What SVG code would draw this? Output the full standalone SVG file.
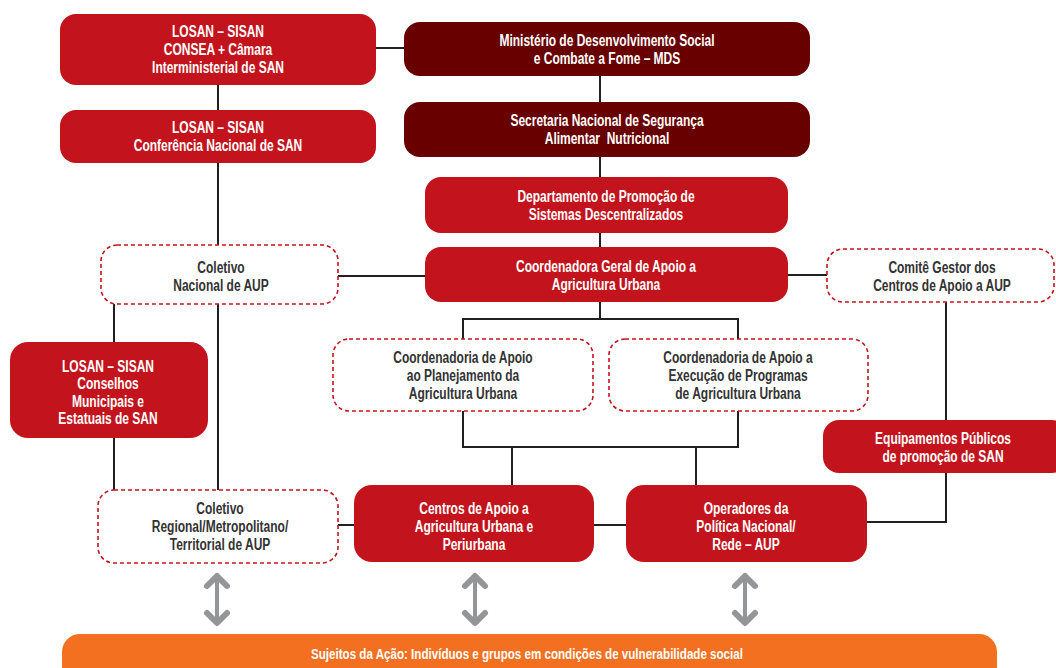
<svg xmlns="http://www.w3.org/2000/svg" width="1056" height="668" viewBox="0 0 1056 668">
<style>
.red{fill:#c3131c}
.dark{fill:#690000}
.dash{fill:#ffffff;stroke:#c3131c;stroke-width:1.6;stroke-dasharray:4 3}
text{font-family:"Liberation Sans",Arial,sans-serif;font-weight:bold;font-size:16px;text-anchor:middle}
.w{fill:#ffffff}
.k{fill:#333333}
.conn line,.conn polyline{stroke:#231f20;stroke-width:2;fill:none}
.arr .shaft{stroke:#939598;stroke-width:4;stroke-linecap:round}
.arr .head{stroke:#939598;stroke-width:6;fill:none;stroke-linecap:round;stroke-linejoin:round}
</style>
<rect width="1056" height="668" fill="#ffffff"/>
<g class="conn" id="connectors">
<line x1="376" y1="48" x2="404" y2="48"/>
<line x1="218" y1="85" x2="218" y2="110"/>
<line x1="218" y1="163" x2="218" y2="245"/>
<line x1="600" y1="76" x2="600" y2="102"/>
<line x1="600" y1="157" x2="600" y2="177"/>
<line x1="600" y1="233" x2="600" y2="247"/>
<line x1="600" y1="302" x2="600" y2="319"/>
<polyline points="463,339 463,319 738,319 738,339"/>
<line x1="338" y1="276" x2="425" y2="276"/>
<line x1="788" y1="275" x2="827" y2="275"/>
<line x1="946" y1="302" x2="946" y2="420"/>
<polyline points="946,473 946,522 867,522"/>
<line x1="114" y1="304" x2="114" y2="342"/>
<line x1="114" y1="438" x2="114" y2="490"/>
<line x1="218" y1="304" x2="218" y2="490"/>
<polyline points="463,411 463,447 738,447 738,411"/>
<line x1="512" y1="447" x2="512" y2="485"/>
<line x1="696" y1="447" x2="696" y2="485"/>
<line x1="338" y1="525" x2="354" y2="525"/>
<line x1="594" y1="525" x2="626" y2="525"/>
<g class="arr">
<line class="shaft" x1="217" y1="578" x2="217" y2="621"/>
<polyline class="head" points="207,586 217,576 227,586"/>
<polyline class="head" points="207,613 217,623 227,613"/>
<line class="shaft" x1="475" y1="578" x2="475" y2="621"/>
<polyline class="head" points="465,586 475,576 485,586"/>
<polyline class="head" points="465,613 475,623 485,613"/>
<line class="shaft" x1="745" y1="578" x2="745" y2="621"/>
<polyline class="head" points="735,586 745,576 755,586"/>
<polyline class="head" points="735,613 745,623 755,613"/>
</g>
</g>
<g id="n-losan-consea"><rect class="red" x="60" y="14" width="316" height="71" rx="16"/>
<text class="w" transform="translate(218 0) scale(0.75 1)"><tspan x="0" y="37">LOSAN – SISAN</tspan><tspan x="0" y="55">CONSEA + Câmara</tspan><tspan x="0" y="73">Interministerial de SAN</tspan></text></g>
<g id="n-losan-conf"><rect class="red" x="60" y="110" width="316" height="53" rx="16"/>
<text class="w" transform="translate(218 0) scale(0.75 1)"><tspan x="0" y="133.5">LOSAN – SISAN</tspan><tspan x="0" y="151.5">Conferência Nacional de SAN</tspan></text></g>
<g id="n-mds"><rect class="dark" x="404" y="22" width="406" height="54" rx="16"/>
<text class="w" transform="translate(607 0) scale(0.75 1)"><tspan x="0" y="46">Ministério de Desenvolvimento Social</tspan><tspan x="0" y="64">e Combate a Fome – MDS</tspan></text></g>
<g id="n-snsan"><rect class="dark" x="404" y="102" width="406" height="55" rx="16"/>
<text class="w" transform="translate(607 0) scale(0.75 1)"><tspan x="0" y="126.5">Secretaria Nacional de Segurança</tspan><tspan x="0" y="144.5">Alimentar&#160; Nutricional</tspan></text></g>
<g id="n-depto"><rect class="red" x="425" y="177" width="363" height="56" rx="16"/>
<text class="w" transform="translate(606 0) scale(0.75 1)"><tspan x="0" y="202.5">Departamento de Promoção de</tspan><tspan x="0" y="220.5">Sistemas Descentralizados</tspan></text></g>
<g id="n-cgaau"><rect class="red" x="425" y="247" width="363" height="55" rx="16"/>
<text class="w" transform="translate(606 0) scale(0.75 1)"><tspan x="0" y="272">Coordenadora Geral de Apoio a</tspan><tspan x="0" y="290">Agricultura Urbana</tspan></text></g>
<g id="n-col-nac"><rect class="dash" x="101" y="245" width="237" height="59" rx="16"/>
<text class="k" transform="translate(221 0) scale(0.75 1)"><tspan x="0" y="273">Coletivo</tspan><tspan x="0" y="291">Nacional de AUP</tspan></text></g>
<g id="n-comite"><rect class="dash" x="827" y="249" width="227" height="53" rx="16"/>
<text class="k" transform="translate(942 0) scale(0.75 1)"><tspan x="0" y="273">Comitê Gestor dos</tspan><tspan x="0" y="291">Centros de Apoio a AUP</tspan></text></g>
<g id="n-losan-cons"><rect class="red" x="10" y="342" width="198" height="96" rx="18"/>
<text class="w" transform="translate(108 0) scale(0.75 1)"><tspan x="0" y="372">LOSAN – SISAN</tspan><tspan x="0" y="389.5">Conselhos</tspan><tspan x="0" y="407">Municipais e</tspan><tspan x="0" y="424.5">Estatuais de SAN</tspan></text></g>
<g id="n-coord-plan"><rect class="dash" x="333" y="339" width="260" height="72" rx="16"/>
<text class="k" transform="translate(463 0) scale(0.75 1)"><tspan x="0" y="363">Coordenadoria de Apoio</tspan><tspan x="0" y="381">ao Planejamento da</tspan><tspan x="0" y="399">Agricultura Urbana</tspan></text></g>
<g id="n-coord-exec"><rect class="dash" x="609" y="339" width="259" height="72" rx="16"/>
<text class="k" transform="translate(738 0) scale(0.75 1)"><tspan x="0" y="363">Coordenadoria de Apoio a</tspan><tspan x="0" y="381">Execução de Programas</tspan><tspan x="0" y="399">de Agricultura Urbana</tspan></text></g>
<g id="n-equip"><rect class="red" x="823" y="420" width="245" height="53" rx="16"/>
<text class="w" transform="translate(943 0) scale(0.75 1)"><tspan x="0" y="444">Equipamentos Públicos</tspan><tspan x="0" y="462">de promoção de SAN</tspan></text></g>
<g id="n-col-reg"><rect class="dash" x="98" y="490" width="240" height="73" rx="16"/>
<text class="k" transform="translate(220 0) scale(0.75 1)"><tspan x="0" y="514">Coletivo</tspan><tspan x="0" y="532">Regional/Metropolitano/</tspan><tspan x="0" y="550">Territorial de AUP</tspan></text></g>
<g id="n-centros"><rect class="red" x="354" y="485" width="240" height="77" rx="18"/>
<text class="w" transform="translate(474 0) scale(0.75 1)"><tspan x="0" y="514">Centros de Apoio a</tspan><tspan x="0" y="532">Agricultura Urbana e</tspan><tspan x="0" y="550">Periurbana</tspan></text></g>
<g id="n-operadores"><rect class="red" x="626" y="485" width="241" height="77" rx="18"/>
<text class="w" transform="translate(746 0) scale(0.75 1)"><tspan x="0" y="514">Operadores da</tspan><tspan x="0" y="532">Política Nacional/</tspan><tspan x="0" y="550">Rede – AUP</tspan></text></g>
<g id="n-sujeitos"><rect x="62" y="634" width="935" height="60" rx="18" fill="#f37021"/>
<text class="w" style="font-size:14.5px" transform="translate(527 0) scale(0.8 1)"><tspan x="0" y="659">Sujeitos da Ação: Indivíduos e grupos em condições de vulnerabilidade social</tspan></text></g>
</svg>
